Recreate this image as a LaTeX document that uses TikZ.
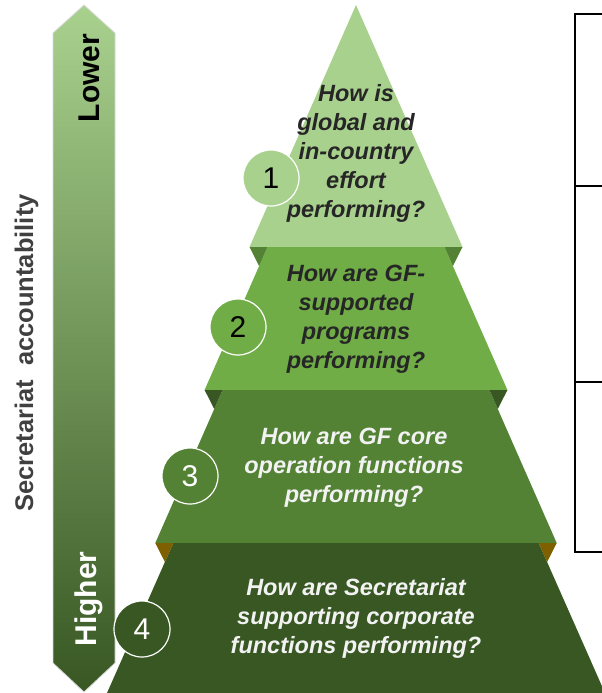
\documentclass[tikz,border=0pt]{standalone}
\usepackage{fontspec}
\setmainfont{Liberation Sans}
\usepackage{tikz}
\usepackage{xcolor}
\definecolor{tierA}{HTML}{A9D18E}
\definecolor{tierB}{HTML}{70AD47}
\definecolor{tierC}{HTML}{548235}
\definecolor{tierD}{HTML}{385723}
\definecolor{foldGold}{HTML}{7F6000}
\definecolor{inkDark}{HTML}{262626}
\definecolor{inkSoft}{HTML}{F2F2F2}
\definecolor{axisGray}{HTML}{404040}
\tikzset{%
	layer label/.style={
		align=center,
		font=\fontsize{23.5}{29}\selectfont\bfseries\itshape
	},
	layer badge/.style={
		circle,
		draw=white,
		line width=1.2pt,
		minimum size=56pt,
		inner sep=0pt,
		font=\fontsize{30}{30}\selectfont
	},
}

\begin{document}
\begin{tikzpicture}[x=1pt, y=1pt]
			\useasboundingbox (0,0) rectangle (602,-693);
			
			% accountability arrow
			\shadedraw[top color=tierA, bottom color=tierD, draw=white!85!black, line width=0.8pt]
				(53,-33) -- (84,-5) -- (115,-33) -- (115,-663) -- (84,-692) -- (53,-663) -- cycle;
			\node[rotate=90, anchor=base, font=\fontsize{30}{30}\selectfont\bfseries] (lower) at (99,-78) {Lower};
			\node[rotate=90, anchor=base, text=white, font=\fontsize{30}{30}\selectfont\bfseries] (higher) at (96,-599) {Higher};
			\node[rotate=90, anchor=base, text=axisGray, font=\fontsize{25.5}{30}\selectfont\bfseries] (axis) at (33,-353) {Secretariat\ \ accountability};
			
			% pyramid layers
			\fill[tierA] (356,-5) -- (462.5,-247) -- (249.5,-247) -- cycle;
			\fill[tierB] (267.5,-247) -- (444.5,-247) -- (507.4,-390) -- (204.6,-390) -- cycle;
			\fill[tierC] (222.6,-390) -- (489.4,-390) -- (556.7,-543) -- (155.3,-543) -- cycle;
			\fill[tierD] (173.3,-543) -- (538.7,-543) -- (605,-693) -- (107,-693) -- cycle;
			
			% folds under the corners
			\fill[tierC] (249.5,-247) -- (267.5,-247) -- (259.1,-266) -- cycle;
			\fill[tierC] (462.5,-247) -- (444.5,-247) -- (452.9,-266) -- cycle;
			\fill[tierD] (204.6,-390) -- (222.6,-390) -- (214.2,-409) -- cycle;
			\fill[tierD] (507.4,-390) -- (489.4,-390) -- (497.8,-409) -- cycle;
			\fill[foldGold] (155.3,-543) -- (173.3,-543) -- (164.9,-562) -- cycle;
			\fill[foldGold] (556.7,-543) -- (538.7,-543) -- (547.1,-562) -- cycle;
			
			% questions
			\node[layer label, text=inkDark] (q1) at (356,-153.5) {How is\\global and\\in-country\\effort\\performing?};
			\node[layer label, text=inkDark] (q2) at (356,-319.5) {How are GF-\\supported\\programs\\performing?};
			\node[layer label, text=inkSoft] (q3) at (354,-468) {How are GF core\\operation functions\\performing?};
			\node[layer label, text=inkSoft] (q4) at (356,-618) {How are Secretariat\\supporting corporate\\functions performing?};
			
			% numbered badges
			\node[layer badge, fill=tierA] (b1) at (271,-178) {1};
			\node[layer badge, fill=tierB] (b2) at (238,-327) {2};
			\node[layer badge, fill=tierC, text=white] (b3) at (190,-476) {3};
			\node[layer badge, fill=tierD, text=white] (b4) at (142,-629) {4};
			
			% bracket on the right
			\draw[line width=2pt] (602,-14) -- (575,-14) -- (575,-552) -- (602,-552);
			\draw[line width=2pt] (575,-186) -- (602,-186);
			\draw[line width=2pt] (575,-382) -- (602,-382);
			
		\end{tikzpicture}
\end{document}
